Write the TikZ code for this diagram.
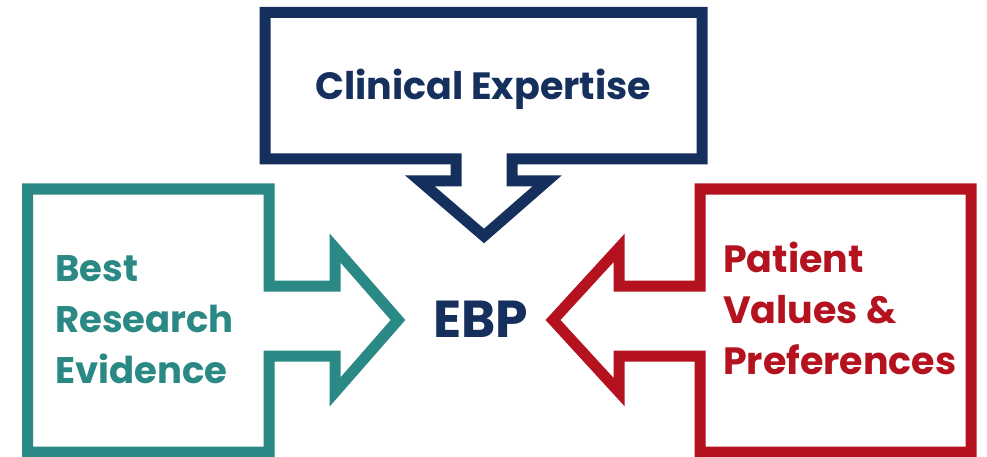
\documentclass[tikz,border=0pt]{standalone}
\usepackage{fontspec}
\setmainfont{Poppins}[BoldFont={* Bold}]
\definecolor{navy}{HTML}{16305E}
\definecolor{teal}{HTML}{2A8985}
\definecolor{crimson}{HTML}{B3121E}
\begin{document}
\begin{tikzpicture}[x=1pt,y=-1pt,
  shapeline/.style={line width=11pt,line join=miter,miter limit=10},
  lbl/.style={inner sep=0pt,font=\bfseries\fontsize{38}{51}\selectfont,align=left}]
\useasboundingbox (0,0) rectangle (987,457);
\fill[white] (0,0) rectangle (987,457);
% top shape
\draw[shapeline,navy] (265,12.5) -- (702,12.5) -- (702,159) -- (512,159) -- (512,181) -- (547,181) -- (484,236) -- (420,181) -- (456,181) -- (456,159) -- (265,159) -- cycle;
% left shape
\draw[shapeline,teal] (27.5,189) -- (269,189) -- (269,286) -- (335,286) -- (335,248) -- (398,320) -- (335,392) -- (335,356) -- (269,356) -- (269,452) -- (27.5,452) -- cycle;
% right shape
\draw[shapeline,crimson] (700,189) -- (971,189) -- (971,452) -- (700,452) -- (700,356) -- (619,356) -- (619,392) -- (553,320) -- (619,248) -- (619,286) -- (700,286) -- cycle;
\node[lbl,navy,anchor=base] (clin) at (483,100) {Clinical Expertise};
\node[lbl,navy,anchor=base west,font=\bfseries\fontsize{52}{60}\selectfont] (ebp) at (433,337) {EBP};
\node[lbl,teal,anchor=north west,font=\bfseries\fontsize{37}{51}\selectfont] (best) at (55,255) {Best\\Research\\Evidence};
\node[lbl,crimson,anchor=north west] (pat) at (723,242) {Patient\\Values \&\\Preferences};
\end{tikzpicture}
\end{document}
